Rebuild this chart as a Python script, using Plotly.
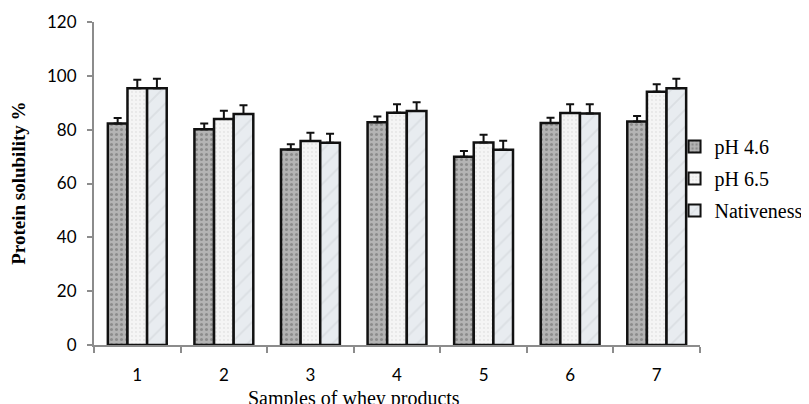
import plotly.graph_objects as go

samples = ["1", "2", "3", "4", "5", "6", "7"]
series_names = ["pH 4.6", "pH 6.5", "Nativeness"]
ph46 = [82.3, 80.2, 72.6, 82.8, 69.9, 82.5, 83.0]
ph65 = [95.4, 84.0, 75.8, 86.3, 75.2, 86.2, 94.1]
native = [95.4, 85.8, 75.1, 86.9, 72.5, 86.0, 95.4]
err46 = [2.0, 2.1, 2.0, 2.1, 2.2, 1.9, 2.1]
err65 = [3.1, 3.0, 3.1, 3.1, 2.9, 3.2, 2.8]
errnat = [3.5, 3.3, 3.4, 3.3, 3.4, 3.4, 3.5]
y_ticks = [0, 20, 40, 60, 80, 100, 120]

styles = [
    dict(color="#b4b4b4", pattern=dict(shape=".", fgcolor="#636363", size=5, solidity=0.3)),
    dict(color="#f5f5f5", pattern=dict(shape=".", fgcolor="#dcdcdc", size=4, solidity=0.25)),
    dict(color="#e8ecf0", pattern=dict(shape="/", fgcolor="#cdd1d6", size=12, solidity=0.15)),
]

fig = go.Figure()
for name, vals, errs, st in zip(series_names, [ph46, ph65, native], [err46, err65, errnat], styles):
    fig.add_trace(go.Bar(
        x=samples, y=vals, name=name, legendgroup=name,
        marker=dict(color=st["color"], pattern=st["pattern"],
                    line=dict(color="#111111", width=2.5)),
        error_y=dict(type="data", symmetric=False, array=errs,
                     arrayminus=[0] * len(errs), color="#111111",
                     thickness=2, width=4),
    ))

axis_gray = "#8c8c8c"
# page body has an 8px margin, so the figure is offset by (8, 8)
fig.update_layout(
    width=801, height=396,
    margin=dict(l=86, r=109, t=14, b=59, autoexpand=False),
    paper_bgcolor="white", plot_bgcolor="white",
    barmode="group", bargap=0.32, bargroupgap=0,
    font=dict(family="Lato", size=17, color="#000000"),
    showlegend=True,
    legend=dict(x=0.958, xanchor="left", y=0.675, yanchor="top",
                font=dict(family="Liberation Serif", size=20, color="#000000"),
                bgcolor="rgba(0,0,0,0)", itemsizing="constant", tracegroupgap=3),
    xaxis=dict(type="category", showline=True, linecolor=axis_gray, linewidth=2,
               ticks="outside", tickson="boundaries", ticklen=6, tickcolor=axis_gray,
               tickwidth=1.5, ticklabelstandoff=14, showgrid=False, automargin=False,
               tickfont=dict(family="Lato", size=17)),
    yaxis=dict(range=[0, 120], tickvals=y_ticks, showline=True, linecolor=axis_gray,
               linewidth=2, ticks="outside", ticklen=5, tickcolor=axis_gray,
               tickwidth=1.5, ticklabelstandoff=7, showgrid=False, zeroline=False,
               automargin=False, tickfont=dict(family="Lato", size=17)),
    annotations=[
        dict(text="<b>Protein solubility %</b>", textangle=-90, xref="paper", yref="paper",
             x=-0.125, y=0.5, xanchor="center", yanchor="middle", showarrow=False,
             font=dict(family="Liberation Serif", size=19, color="#000000")),
        dict(text="Samples of whey products", xref="paper", yref="paper",
             x=0.429, y=-0.165, xanchor="center", yanchor="middle", showarrow=False,
             font=dict(family="Liberation Serif", size=20, color="#000000")),
    ],
)

fig.write_html("out.html")
